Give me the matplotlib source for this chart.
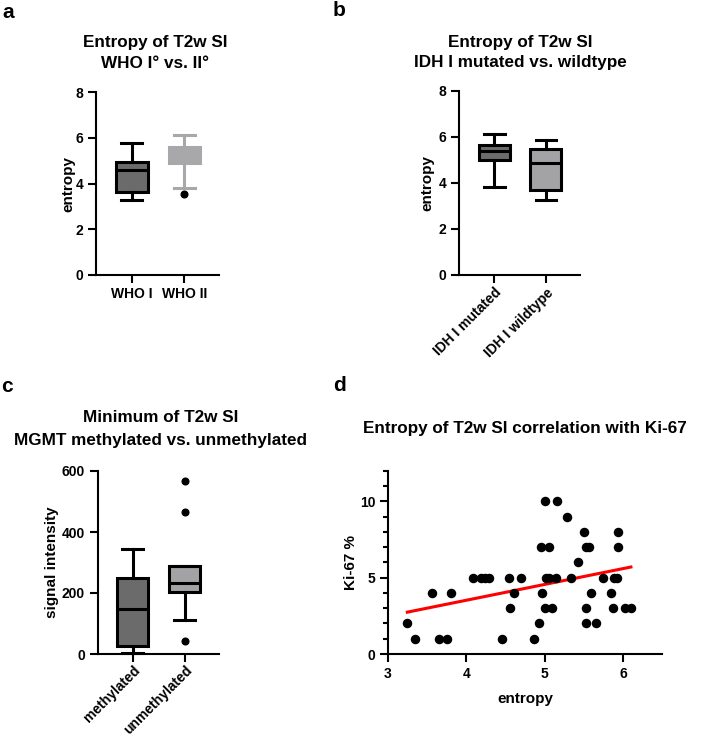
import numpy as np
import matplotlib
matplotlib.use("Agg")
import matplotlib.pyplot as plt
from matplotlib.ticker import MultipleLocator

plt.rcParams['font.family'] = ['Liberation Sans', 'DejaVu Sans']
plt.rcParams['font.weight'] = 'bold'

# ---------------- data ----------------
# panel a: entropy, WHO grade
who_labels = ["WHO I", "WHO II"]
who_whislo = [3.27, 3.82]
who_q1 = [3.64, 4.90]
who_med = [4.59, 5.30]
who_q3 = [4.96, 5.60]
who_whishi = [5.77, 6.12]
who_fliers = [[], [3.56]]

# panel b: entropy, IDH status
idh_labels = ["IDH I mutated", "IDH I wildtype"]
idh_whislo = [3.81, 3.26]
idh_q1 = [5.00, 3.71]
idh_med = [5.38, 4.87]
idh_q3 = [5.66, 5.48]
idh_whishi = [6.12, 5.89]
idh_fliers = [[], []]

# panel c: minimum signal intensity, MGMT status
mgmt_labels = ["methylated", "unmethylated"]
mgmt_whislo = [4, 111]
mgmt_q1 = [25, 202]
mgmt_med = [149, 232]
mgmt_q3 = [250, 289]
mgmt_whishi = [343, 289]
mgmt_fliers = [[], [568, 465, 42]]

# panel d: entropy vs Ki-67
entropy = [3.25, 3.35, 3.57, 3.65, 3.76, 3.81, 4.09, 4.19, 4.24, 4.29,
           4.46, 4.54, 4.56, 4.61, 4.70, 4.87, 4.93, 4.95, 4.97, 5.00,
           5.01, 5.02, 5.05, 5.05, 5.09, 5.14, 5.16, 5.29, 5.34, 5.43,
           5.50, 5.53, 5.57, 5.53, 5.53, 5.59, 5.66, 5.74, 5.84, 5.87,
           5.89, 5.92, 5.93, 5.94, 6.02, 6.10]
ki67 = [2, 1, 4, 1, 1, 4, 5, 5, 5, 5,
        1, 5, 3, 4, 5, 1, 2, 7, 4, 3,
        10, 5, 5, 7, 3, 5, 10, 9, 5, 6,
        8, 7, 7, 3, 2, 4, 2, 5, 4, 3,
        5, 5, 7, 8, 3, 3]

# ---------------- style ----------------
DARK = "#6b6b6b"
LIGHT = "#a3a3a6"
WHO2 = "#a8a8aa"
FS = 10
W = 702
H = 738

fig = plt.figure(figsize=(W / 100, H / 100), dpi=100)


def px_axes(left, right, top, bottom):
    return fig.add_axes([left / W, 1 - bottom / H, (right - left) / W, (bottom - top) / H])


def style_axes(ax):
    for s in ("top", "right"):
        ax.spines[s].set_visible(False)
    for s in ("left", "bottom"):
        ax.spines[s].set_linewidth(1.5)
    ax.tick_params(width=1.5, length=5.5, labelsize=FS, direction="out")
    for lab in ax.get_xticklabels() + ax.get_yticklabels():
        lab.set_fontweight("bold")


def make_stats(labels, whislo, q1, med, q3, whishi, fliers):
    return [dict(label=l, whislo=a, q1=b, med=c, q3=d, whishi=e, fliers=f)
            for l, a, b, c, d, e, f in zip(labels, whislo, q1, med, q3, whishi, fliers)]


def draw_box(ax, stats, colors, edgecolors):
    for i, (st, fc, ec) in enumerate(zip(stats, colors, edgecolors)):
        ax.bxp([st], positions=[i], widths=0.6, capwidths=0.4, patch_artist=True,
               showfliers=True,
               boxprops=dict(facecolor=fc, edgecolor=ec, linewidth=2.2),
               medianprops=dict(color=ec, linewidth=2.2),
               whiskerprops=dict(color=ec, linewidth=2.2),
               capprops=dict(color=ec, linewidth=2.2),
               flierprops=dict(marker="o", markerfacecolor="black", markeredgecolor="black",
                               markersize=4.8),
               manage_ticks=False)
    ax.set_xlim(-0.68, 1.66)
    ax.set_xticks(range(len(stats)))


# panel a
axa = px_axes(96, 219, 92, 275)
draw_box(axa, make_stats(who_labels, who_whislo, who_q1, who_med, who_q3, who_whishi, who_fliers),
         [DARK, WHO2], ["black", WHO2])
axa.set_ylim(0, 8)
axa.set_yticks([0, 2, 4, 6, 8])
axa.set_xticklabels(who_labels)
axa.set_ylabel("entropy", fontsize=11, fontweight="bold", labelpad=0)
style_axes(axa)

# panel b
axb = px_axes(459, 580, 91, 275)
draw_box(axb, make_stats(idh_labels, idh_whislo, idh_q1, idh_med, idh_q3, idh_whishi, idh_fliers),
         [DARK, LIGHT], ["black", "black"])
axb.set_ylim(0, 8)
axb.set_yticks([0, 2, 4, 6, 8])
axb.set_xticklabels(idh_labels, rotation=45, ha="right", rotation_mode="anchor")
axb.set_ylabel("entropy", fontsize=11, fontweight="bold", labelpad=3)
style_axes(axb)
axb.tick_params(axis="x", pad=2)

# panel c
axc = px_axes(97.5, 219, 471, 654)
draw_box(axc, make_stats(mgmt_labels, mgmt_whislo, mgmt_q1, mgmt_med, mgmt_q3, mgmt_whishi, mgmt_fliers),
         [DARK, LIGHT], ["black", "black"])
axc.set_ylim(0, 600)
axc.set_yticks([0, 200, 400, 600])
axc.set_xticklabels(mgmt_labels, rotation=45, ha="right", rotation_mode="anchor")
axc.set_ylabel("signal intensity", fontsize=11, fontweight="bold", labelpad=2)
style_axes(axc)
axc.tick_params(axis="x", pad=1)
for a in (axa, axb, axc):
    for art in a.lines + a.patches:
        art.set_clip_on(False)

# panel d
axd = px_axes(387.7, 662.3, 470.7, 654)
axd.scatter(entropy, ki67, s=34, color="black", zorder=3, clip_on=False)
slope, intercept = np.polyfit(entropy, ki67, 1)
xs = np.array([min(entropy), max(entropy)])
axd.plot(xs, slope * xs + intercept, color="#ff0000", linewidth=2.2, zorder=2)
axd.set_xlim(3, 6.5)
axd.set_ylim(0, 12)
axd.set_xticks([3, 4, 5, 6])
axd.set_yticks([0, 5, 10])
axd.yaxis.set_minor_locator(MultipleLocator(1))
axd.set_xlabel("entropy", fontsize=11, fontweight="bold", labelpad=8)
axd.set_ylabel("Ki-67 %", fontsize=11, fontweight="bold", labelpad=1)
style_axes(axd)
axd.tick_params(which="minor", axis="y", length=3.5, width=1.5)

# titles
tkw = dict(fontsize=12.3, fontweight="bold", ha="center", va="center")
fig.text(155 / W, 1 - 43 / H, "Entropy of T2w SI", **tkw)
fig.text(155 / W, 1 - 63 / H, "WHO I° vs. II°", **tkw)
fig.text(520 / W, 1 - 42 / H, "Entropy of T2w SI", **tkw)
fig.text(520 / W, 1 - 62 / H, "IDH I mutated vs. wildtype", **tkw)
fig.text(161 / W, 1 - 418 / H, "Minimum of T2w SI", **tkw)
fig.text(161 / W, 1 - 440 / H, "MGMT methylated vs. unmethylated", **tkw)
fig.text(525 / W, 1 - 429 / H, "Entropy of T2w SI correlation with Ki-67", **tkw)

# panel letters
lkw = dict(fontsize=15, fontweight="bold", ha="left", va="center")
fig.text(2 / W, 1 - 12 / H, "a", **lkw)
fig.text(333 / W, 1 - 11 / H, "b", **lkw)
fig.text(1 / W, 1 - 387 / H, "c", **lkw)
fig.text(333 / W, 1 - 386 / H, "d", **lkw)

fig.savefig("out.png", dpi=100, facecolor="white")
